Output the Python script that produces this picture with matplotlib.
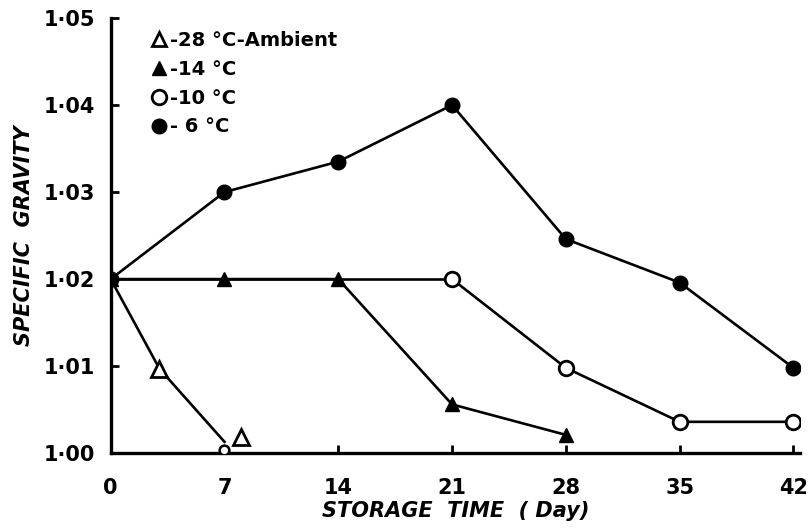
import matplotlib
matplotlib.use("Agg")
import matplotlib.pyplot as plt
from matplotlib.lines import Line2D

# storage time (days) and specific gravity
days = [0, 7, 14, 21, 28, 35, 42]
sg_6c = [1.020, 1.030, 1.0335, 1.040, 1.0246, 1.0196, 1.0098]
sg_10c = [1.020, 1.020, 1.020, 1.020, 1.0098, 1.0036, 1.0036]
days_14c = [0, 7, 14, 21, 28]
sg_14c = [1.020, 1.020, 1.020, 1.0056, 1.0021]
days_amb_line = [0, 3, 7]
sg_amb_line = [1.020, 1.0097, 1.0013]
days_amb_pts = [3, 8]
sg_amb_pts = [1.0097, 1.0019]
days_extra_circle = [7]
sg_extra_circle = [1.0004]

xticks = [0, 7, 14, 21, 28, 35, 42]
yticks = [1.00, 1.01, 1.02, 1.03, 1.04, 1.05]
ylabels = ["1·00", "1·01", "1·02", "1·03", "1·04", "1·05"]
legend_labels = ["-28 °C-Ambient", "-14 °C", "-10 °C", "- 6 °C"]

plt.rcParams["font.family"] = "DejaVu Sans"
plt.rcParams["font.weight"] = "bold"

fig = plt.figure(figsize=(8.08, 5.30), dpi=100)
ax = fig.add_axes([0.137, 0.145, 0.853, 0.821])

lw = 1.9
ms = 10.5
ax.plot(days, sg_6c, color="black", lw=lw, marker="o", ms=ms,
        mfc="black", mec="black", zorder=3)
ax.plot(days[3:], sg_10c[3:], color="black", lw=lw, marker="o", ms=ms,
        mfc="white", mec="black", mew=2, zorder=3)
ax.plot(days[:4], sg_10c[:4], color="black", lw=lw, zorder=2)
ax.plot(days_14c, sg_14c, color="black", lw=lw, marker="^", ms=ms,
        mfc="black", mec="black", zorder=3)
ax.plot(days_amb_line, sg_amb_line, color="black", lw=lw, zorder=2)
ax.plot(days_amb_pts, sg_amb_pts, ls="none", marker="^", ms=ms + 1,
        mfc="white", mec="black", mew=2, zorder=3)
ax.plot(days_extra_circle, sg_extra_circle, ls="none", marker="o", ms=7,
        mfc="white", mec="black", mew=1.8, zorder=3)

ax.set_xlim(0, 42.4)
ax.set_ylim(1.00, 1.05)
ax.set_xticks(xticks)
ax.set_xticklabels([str(t) for t in xticks])
ax.set_yticks(yticks)
ax.set_yticklabels(ylabels)

for side in ["top", "right"]:
    ax.spines[side].set_visible(False)
for side in ["left", "bottom"]:
    ax.spines[side].set_linewidth(2.4)
    ax.spines[side].set_clip_on(False)
ax.tick_params(direction="in", length=6, width=2, labelsize=15)
ax.tick_params(axis="x", pad=18)
ax.tick_params(axis="y", pad=11)

ax.set_xlabel("STORAGE  TIME  ( Day)", fontsize=15, fontstyle="italic",
              fontweight="bold", labelpad=2)
ax.set_ylabel("SPECIFIC  GRAVITY", fontsize=15, fontstyle="italic",
              fontweight="bold")
ax.yaxis.set_label_coords(-0.112, 0.5)

handles = [
    Line2D([], [], ls="none", marker="^", ms=ms, mfc="white", mec="black", mew=2),
    Line2D([], [], ls="none", marker="^", ms=ms, mfc="black", mec="black"),
    Line2D([], [], ls="none", marker="o", ms=ms, mfc="white", mec="black", mew=2),
    Line2D([], [], ls="none", marker="o", ms=ms, mfc="black", mec="black"),
]
leg = ax.legend(handles, legend_labels, loc="upper left",
                bbox_to_anchor=(0.03, 1.01), frameon=False,
                prop={"size": 14, "weight": "bold"},
                handletextpad=0.1, handlelength=1.0, labelspacing=0.5)

fig.savefig("out.png", dpi=100)
